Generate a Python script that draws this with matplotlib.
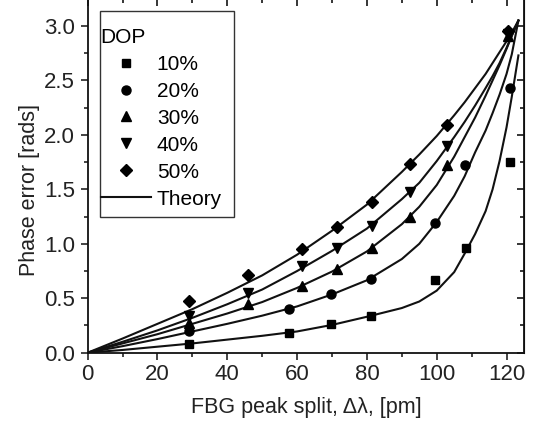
import matplotlib
matplotlib.use("Agg")
import matplotlib.pyplot as plt
from matplotlib.patches import Rectangle
from matplotlib.ticker import MultipleLocator

plt.rcParams["font.family"] = ["Liberation Sans", "DejaVu Sans"]

# measured points, one pair of lists per DOP value
x10 = [29, 57.7, 69.6, 81.2, 99.5, 108.4, 121]
y10 = [0.08, 0.18, 0.26, 0.34, 0.67, 0.965, 1.75]
x20 = [29, 57.7, 69.6, 81.2, 99.5, 108.2, 121]
y20 = [0.195, 0.40, 0.54, 0.675, 1.19, 1.72, 2.43]
x30 = [29, 46, 61.5, 71.5, 81.4, 92.2, 103, 120.3]
y30 = [0.27, 0.445, 0.615, 0.77, 0.965, 1.245, 1.72, 2.91]
x40 = [29, 46, 61.5, 71.5, 81.4, 92.2, 102.9, 120.3]
y40 = [0.34, 0.55, 0.80, 0.96, 1.16, 1.48, 1.90, 2.93]
x50 = [29, 46, 61.5, 71.5, 81.4, 92.2, 102.9, 120.5]
y50 = [0.475, 0.71, 0.95, 1.15, 1.385, 1.73, 2.09, 2.95]

# theory curves
theory_x = [0, 10, 20, 30, 40, 50, 60, 70, 80, 90, 95, 100, 105, 108, 111,
            114, 116, 118, 120, 121.5, 123.4]
theory10 = [0, 0.025, 0.055, 0.085, 0.12, 0.155, 0.195, 0.255, 0.33, 0.41,
            0.47, 0.57, 0.74, 0.91, 1.09, 1.30, 1.50, 1.76, 2.07, 2.35, 2.73]
theory20 = [0, 0.06, 0.125, 0.195, 0.265, 0.34, 0.425, 0.535, 0.665, 0.86,
            1.00, 1.20, 1.44, 1.62, 1.84, 2.04, 2.20, 2.37, 2.56, 2.74, 3.05]
theory30 = [0, 0.085, 0.17, 0.265, 0.36, 0.465, 0.595, 0.745, 0.93, 1.18,
            1.34, 1.54, 1.80, 1.98, 2.16, 2.36, 2.50, 2.64, 2.79, 2.91, 3.05]
theory40 = [0, 0.10, 0.205, 0.32, 0.445, 0.58, 0.75, 0.935, 1.14, 1.41,
            1.56, 1.76, 1.98, 2.12, 2.27, 2.43, 2.54, 2.66, 2.80, 2.91, 3.05]
theory50 = [0, 0.13, 0.265, 0.40, 0.55, 0.71, 0.90, 1.12, 1.36, 1.66,
            1.82, 1.99, 2.18, 2.30, 2.43, 2.56, 2.66, 2.76, 2.86, 2.94, 3.05]

labels = ["10%", "20%", "30%", "40%", "50%"]
markers = ["s", "o", "^", "v", "D"]
sizes = [5.5, 6.5, 7, 7, 6]

fig = plt.figure(figsize=(5.36, 4.29), dpi=100)
ax = fig.add_axes([0.1636, 0.1779, 0.8140, 0.8249])

line_col = "#111111"
for th in [theory10, theory20, theory30, theory40, theory50]:
    ax.plot(theory_x, th, color=line_col, lw=1.5, zorder=2)

xs = [x10, x20, x30, x40, x50]
ys = [y10, y20, y30, y40, y50]
handles = []
for x, y, m, s, lab in zip(xs, ys, markers, sizes, labels):
    h, = ax.plot(x, y, linestyle="none", marker=m, ms=s, color="#000000",
                 label=lab, zorder=3)
    handles.append(h)
theory_handle, = ax.plot([], [], color=line_col, lw=1.5, label="Theory")
handles.append(theory_handle)

ax.set_xlim(0, 125)
ax.set_ylim(0, 3.25)
ax.xaxis.set_major_locator(MultipleLocator(20))
ax.xaxis.set_minor_locator(MultipleLocator(10))
ax.yaxis.set_major_locator(MultipleLocator(0.5))
ax.yaxis.set_minor_locator(MultipleLocator(0.25))
ax.yaxis.set_major_formatter(plt.FormatStrFormatter("%.1f"))

ax.tick_params(axis="both", which="both", direction="out", labelsize=16,
               width=1.1, colors="#111111", labelcolor="#222222")
ax.tick_params(which="major", length=5, pad=3)
ax.tick_params(which="minor", length=3)
ax.tick_params(axis="y", which="major", pad=4)

# inward mirror ticks on top and right
ax_top = ax.secondary_xaxis("top")
ax_top.xaxis.set_major_locator(MultipleLocator(20))
ax_top.xaxis.set_minor_locator(MultipleLocator(10))
ax_top.tick_params(which="both", direction="in", labeltop=False, width=1.1)
ax_top.tick_params(which="major", length=5)
ax_top.tick_params(which="minor", length=3)
ax_right = ax.secondary_yaxis("right")
ax_right.yaxis.set_major_locator(MultipleLocator(0.5))
ax_right.yaxis.set_minor_locator(MultipleLocator(0.25))
ax_right.tick_params(which="both", direction="in", labelright=False, width=1.1)
ax_right.tick_params(which="major", length=5)
ax_right.tick_params(which="minor", length=3)

for sp in ax.spines.values():
    sp.set_linewidth(1.3)
    sp.set_color("#111111")

ax.set_xlabel("FBG peak split, \u0394\u03bb, [pm]", fontsize=15.5, labelpad=9,
              color="#222222")
ax.set_ylabel("Phase error [rads]", fontsize=15.5, color="#222222")
ax.yaxis.set_label_coords(-0.11, 0.46)

# legend box drawn as a separate frame, contents placed inside it
frame = Rectangle((100 / 536, 1 - 217 / 429), 134 / 536, 206.3 / 429,
                  transform=fig.transFigure, facecolor="white",
                  edgecolor="#333333", lw=1.0, zorder=4, clip_on=False)
ax.add_patch(frame)
leg = ax.legend(handles=handles, title="DOP", loc="upper left",
                bbox_to_anchor=(100.5 / 536, 1 - 28 / 429),
                bbox_transform=fig.transFigure, borderaxespad=0,
                fontsize=15, title_fontsize=15, alignment="left",
                frameon=False, handlelength=2.4, handletextpad=0.3,
                labelspacing=0.38, borderpad=0)
leg.set_zorder(5)

fig.savefig("out.png", dpi=100)
